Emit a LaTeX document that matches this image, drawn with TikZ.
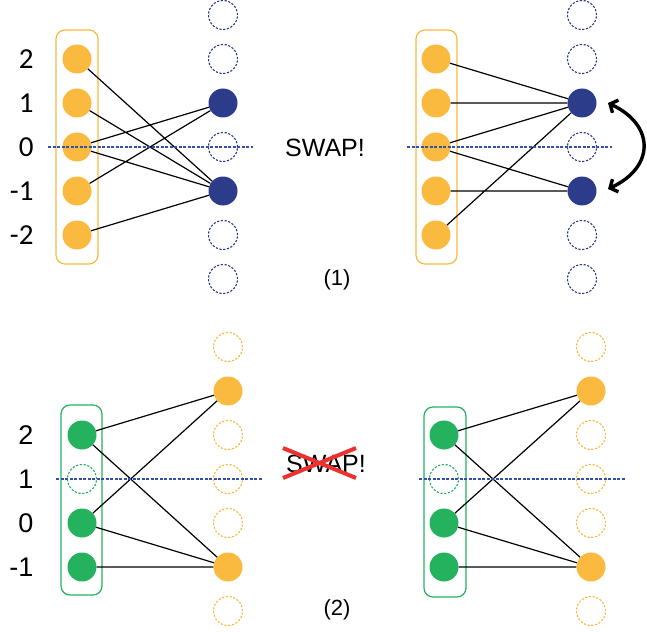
\documentclass[tikz,border=0pt]{standalone}
\usepackage{fontspec}
\setmainfont{Liberation Sans}
\newfontfamily\calibri{Carlito}
\usepackage{xcolor}
\definecolor{sunyellow}{RGB}{249, 186, 63}
\definecolor{deepblue}{RGB}{44, 60, 138}
\definecolor{lineblue}{RGB}{52, 80, 170}
\definecolor{leafgreen}{RGB}{36, 178, 95}
\definecolor{crossred}{RGB}{236, 50, 48}
\usepackage{tikz}
\usetikzlibrary{arrows.meta}

\tikzset{
    ball/.style={circle, inner sep=0pt, minimum size=29pt},
    full/.style={ball, fill=#1},
    hole/.style={ball, draw=#1, dash pattern=on 2.2pt off 1.6pt, line width=1.1pt},
    box/.style={draw=#1, rounded corners=9pt, line width=1.2pt},
    guide/.style={lineblue, dash pattern=on 3pt off 1.5pt, line width=1.2pt},
    link/.style={black, line width=1.2pt},
    lbl/.style={anchor=east, font=\fontsize{27}{32}\selectfont},
}

\begin{document}
\begin{tikzpicture}[x=1pt, y=-1pt]
    \useasboundingbox (0,0) rectangle (647,631);

    % (1) left: before the swap
    \draw[box=sunyellow] (56,30) rectangle (98,264);
    \foreach \k/\v in {1/2, 2/1, 3/0, 4/-1, 5/-2} {
        \node[lbl, font=\calibri\fontsize{29}{34}\selectfont] at (37,{15+44*\k}) {\v};
        \node[full=sunyellow] (a\k) at (77,{15+44*\k}) {};
    }
    \foreach \k in {0,1,3,5,6}
        \node[hole=deepblue] at (223,{15+44*\k}) {};
    \node[full=deepblue] (p2) at (223,103) {};
    \node[full=deepblue] (p4) at (223,191) {};
    \draw[link] (a1) -- (p4) (a2) -- (p4) (a3) -- (p2) (a3) -- (p4) (a4) -- (p2) (a5) -- (p4);
    \draw[guide] (48,147) -- (253,147);

    % (1) right: after the swap
    \draw[box=sunyellow] (416,30) rectangle (457,264);
    \foreach \k in {1,...,5}
        \node[full=sunyellow] (b\k) at (436,{15+44*\k}) {};
    \foreach \k in {0,1,3,5,6}
        \node[hole=deepblue] at (582,{15+44*\k}) {};
    \node[full=deepblue] (q2) at (582,103) {};
    \node[full=deepblue] (q4) at (582,191) {};
    \draw[link] (b1) -- (q2) (b2) -- (q2) (b3) -- (q2) (b3) -- (q4) (b4) -- (q4) (b5) -- (q2);
    \draw[guide] (407,147) -- (612,147);

    \coordinate (up) at (608,103);
    \coordinate (down) at (608,189);
    \draw[line width=3.4pt, {Straight Barb[length=6pt, width=14pt]}-{Straight Barb[length=6pt, width=14pt]}]
        (up) .. controls (655,125) and (655,167) .. (down);

    \node[font=\fontsize{25}{30}\selectfont] (swap) at (325,148) {SWAP!};
    \node[font=\fontsize{22}{26}\selectfont] (one) at (337,280) {(1)};

    % (2) left: swap not allowed
    \draw[box=leafgreen] (61,405) rectangle (102,595);
    \foreach \k/\v in {1/2, 2/1, 3/0, 4/-1}
        \node[lbl] at (37,{391+44*\k}) {\v};
    \foreach \k in {1,3,4}
        \node[full=leafgreen] (c\k) at (82,{391+44*\k}) {};
    \node[hole=leafgreen] at (82,479) {};
    \foreach \k in {0,2,3,4,6}
        \node[hole=sunyellow] at (228,{347+44*\k}) {};
    \node[full=sunyellow] (r1) at (228,391) {};
    \node[full=sunyellow] (r5) at (228,567) {};
    \draw[link] (c1) -- (r1) (c1) -- (r5) (c3) -- (r1) (c3) -- (r5) (c4) -- (r5);
    \draw[guide] (56,479) -- (262,479);

    % (2) right: same picture
    \draw[box=leafgreen] (424,407) rectangle (466,597);
    \foreach \k in {1,3,4}
        \node[full=leafgreen] (d\k) at (444,{391+44*\k}) {};
    \node[hole=leafgreen] at (444,479) {};
    \foreach \k in {0,2,3,4,6}
        \node[hole=sunyellow] at (591,{347+44*\k}) {};
    \node[full=sunyellow] (s1) at (591,391) {};
    \node[full=sunyellow] (s5) at (591,567) {};
    \draw[link] (d1) -- (s1) (d1) -- (s5) (d3) -- (s1) (d3) -- (s5) (d4) -- (s5);
    \draw[guide] (419,479) -- (625,479);

    \node[font=\fontsize{25}{30}\selectfont] (noswap) at (326,464) {SWAP!};
    \draw[crossred, line width=4pt] (283,448) -- (356,478) (283,478) -- (356,448);
    \node[font=\fontsize{22}{26}\selectfont] (two) at (337,610) {(2)};
\end{tikzpicture}
\end{document}
